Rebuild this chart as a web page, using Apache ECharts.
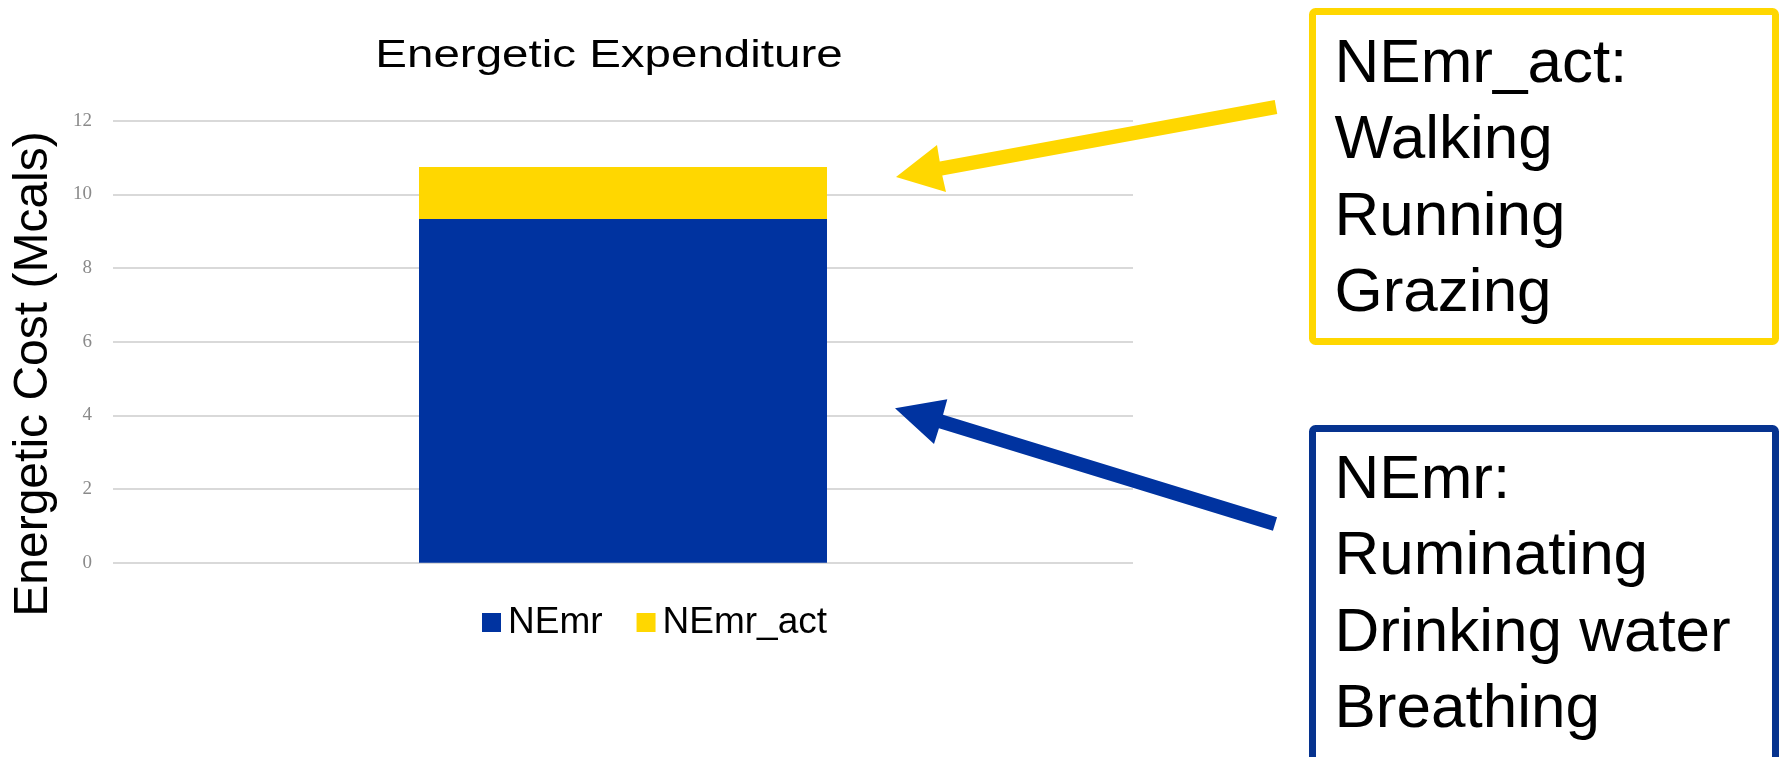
<!DOCTYPE html>
<html>
<head>
<meta charset="utf-8">
<script src="https://cdn.jsdelivr.net/npm/echarts@6/dist/echarts.min.js"></script>
<style>
  html, body { margin: 0; padding: 0; background: #ffffff; }
  #chart { width: 1779px; height: 757px; }
</style>
</head>
<body>
<div id="chart"></div>
<script>
// Energetic expenditure split into maintenance and activity costs (Mcal)
const categories = ['Energetic Expenditure'];
const seriesNames = ['NEmr', 'NEmr_act'];
const nemrValues = [9.33];
const nemrActValues = [1.41];
const yTicks = { min: 0, max: 12, interval: 2 };

const BLUE = '#0033a0';
const YELLOW = '#ffd700';
const SANS = '"Liberation Sans", Arial, Helvetica, sans-serif';

const chart = echarts.init(document.getElementById('chart'), null, { renderer: 'canvas' });

// Arrow drawn as one outline: a 14px shaft from tail to base, then a triangular head
function arrow(tail, base, tip, wingA, wingB, color) {
  const dx = base[0] - tail[0], dy = base[1] - tail[1];
  const len = Math.hypot(dx, dy);
  const nx = -dy / len * 7, ny = dx / len * 7;
  const side = (p) => (p[0] - base[0]) * nx + (p[1] - base[1]) * ny;
  const plusWing = side(wingA) > 0 ? wingA : wingB;
  const minusWing = plusWing === wingA ? wingB : wingA;
  return {
    type: 'polygon',
    z: 100,
    shape: {
      points: [
        [tail[0] + nx, tail[1] + ny],
        [base[0] + nx, base[1] + ny],
        plusWing,
        tip,
        minusWing,
        [base[0] - nx, base[1] - ny],
        [tail[0] - nx, tail[1] - ny]
      ]
    },
    style: { fill: color }
  };
}

// Boxed multi-line note
function note(x, y, w, h, color, lines, textDy) {
  return [
    {
      type: 'rect',
      z: 100,
      shape: { x: x, y: y, width: w, height: h, r: 3 },
      style: { fill: '#ffffff', stroke: color, lineWidth: 7 }
    },
    {
      type: 'text',
      z: 101,
      x: x + 22,
      y: y + textDy,
      style: {
        text: lines.join('\n'),
        fontFamily: SANS,
        fontSize: 62,
        lineHeight: 76.5,
        fill: '#000000',
        align: 'left',
        verticalAlign: 'top'
      }
    }
  ];
}

const option = {
  backgroundColor: '#ffffff',
  animation: false,
  legend: {
    data: seriesNames,
    left: 482,
    top: 604,
    padding: 0,
    itemWidth: 19,
    itemHeight: 19,
    itemGap: 34,
    icon: 'rect',
    textStyle: { fontFamily: SANS, fontSize: 37, color: '#000000', padding: [0, 0, 0, 2] }
  },
  grid: { left: 113, right: 646, top: 120.7, bottom: 194.3, containLabel: false },
  xAxis: {
    type: 'category',
    data: categories,
    axisLine: { show: false },
    axisTick: { show: false },
    axisLabel: { show: false }
  },
  yAxis: {
    type: 'value',
    min: yTicks.min,
    max: yTicks.max,
    interval: yTicks.interval,
    axisLine: { show: false },
    axisTick: { show: false },
    axisLabel: {
      margin: 21,
      fontFamily: '"Liberation Serif", "Times New Roman", serif',
      fontSize: 19,
      color: '#8a8a8a'
    },
    splitLine: { lineStyle: { color: '#d9d9d9', width: 2 } }
  },
  series: [
    {
      name: seriesNames[0],
      type: 'bar',
      stack: 'total',
      barWidth: '40%',
      itemStyle: { color: BLUE },
      data: nemrValues
    },
    {
      name: seriesNames[1],
      type: 'bar',
      stack: 'total',
      barWidth: '40%',
      itemStyle: { color: YELLOW },
      data: nemrActValues
    }
  ],
  graphic: [
    {
      // chart title
      type: 'text',
      z: 100,
      x: 609,
      y: 57,
      scaleX: 1.25,
      style: {
        text: categories[0],
        fontFamily: SANS,
        fontSize: 38,
        fill: '#000000',
        align: 'center',
        verticalAlign: 'middle'
      }
    },
    {
      // value axis name
      type: 'text',
      z: 100,
      x: 34,
      y: 374,
      rotation: Math.PI / 2,
      style: {
        text: 'Energetic Cost (Mcals)',
        fontFamily: SANS,
        fontSize: 48,
        fill: '#000000',
        align: 'center',
        verticalAlign: 'middle'
      }
    },
    arrow([1276, 107], [941, 168.5], [896, 177], [937, 145], [946, 192], YELLOW),
    arrow([1275, 524], [941, 421.5], [895, 408.3], [947.3, 399.3], [934, 444], BLUE),
    ...note(1312.5, 11.5, 463, 330, YELLOW, ['NEmr_act:', 'Walking', 'Running', 'Grazing'], 15),
    ...note(1312.5, 428.5, 463, 340, '#06338f', ['NEmr:', 'Ruminating', 'Drinking water', 'Breathing'], 14)
  ]
};

chart.setOption(option);
</script>
</body>
</html>
